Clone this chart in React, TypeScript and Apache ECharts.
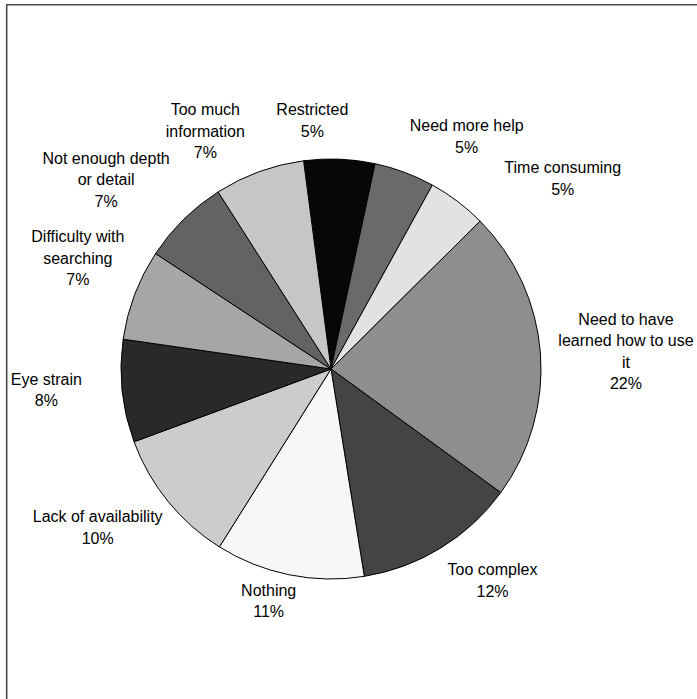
import { useEffect, useRef } from "react";
import * as echarts from "echarts";

// Survey answers, clockwise from the black "Restricted" slice.
const categories = [
  "Restricted",
  "Need more help",
  "Time consuming",
  "Need to have learned how to use it",
  "Too complex",
  "Nothing",
  "Lack of availability",
  "Eye strain",
  "Difficulty with searching",
  "Not enough depth or detail",
  "Too much information",
];

// Share of responses (percent).
const shares = [5.45, 4.65, 4.55, 22.45, 12.45, 11.45, 10.45, 7.9, 7.0, 6.7, 6.95];

const sliceColors = [
  "#070707",
  "#6a6a6a",
  "#e2e2e2",
  "#8e8e8e",
  "#444444",
  "#f7f7f7",
  "#cccccc",
  "#292929",
  "#a6a6a6",
  "#636363",
  "#c6c6c6",
];

// Per-label placement tweaks: angular shift (degrees, clockwise) and extra radial distance (px)
const labelAngleShift = [-7, 0, 8.7, 0, 0, 1.5, 0, 1.2, 0, -1.2, -2.7];
const labelRadialShift = [5, 2, 19, 5, 0, -7, -6, 27, -2, 2, 0];

const CX = 331;
const CY = 369;
const RADIUS = 210;
const START_CLOCKWISE_DEG = -7.5; // first slice edge, measured clockwise from 12 o'clock
const LABEL_GAP = 13;
const FONT_FAMILY = '"Liberation Sans", Arial, Helvetica, sans-serif';
const FONT_SIZE = 16;
const LINE_HEIGHT = 21.5;
const WRAP_WIDTH = 142;

function buildOption() {
  const total = shares.reduce((a, b) => a + b, 0);

  const canvas = document.createElement("canvas");
  const ctx = canvas.getContext("2d")!;
  ctx.font = `${FONT_SIZE}px ${FONT_FAMILY}`;

  const wrap = (text: string) => {
    const words = text.split(" ");
    const lines: string[] = [];
    let cur = "";
    for (const w of words) {
      const trial = cur ? cur + " " + w : w;
      if (cur && ctx.measureText(trial).width > WRAP_WIDTH) {
        lines.push(cur);
        cur = w;
      } else {
        cur = trial;
      }
    }
    if (cur) lines.push(cur);
    return lines;
  };

  const labelLines = categories.map((name, i) => [
    ...wrap(name),
    `${Math.round((shares[i] * 100) / total)}%`,
  ]);
  const labelWidth = labelLines.map((ls) => Math.max(...ls.map((l) => ctx.measureText(l).width)));
  const labelHeight = labelLines.map((ls) => ls.length * LINE_HEIGHT);

  let cum = 0;
  const midAngle = shares.map((v) => {
    const m = START_CLOCKWISE_DEG + (360 * (cum + v / 2)) / total;
    cum += v;
    return m;
  });

  // How far a label box is pushed off the radial anchor, per axis
  const side = (u: number) =>
    Math.sign(u) * Math.min(1, Math.max(0, (Math.abs(u) - 0.1) / 0.25));

  return {
    animation: false,
    backgroundColor: "#ffffff",
    textStyle: { fontFamily: FONT_FAMILY },
    graphic: [
      {
        type: "rect",
        silent: true,
        z: -10,
        shape: { x: 6.7, y: 4.8, width: 1400, height: 1400 },
        style: { fill: "none", stroke: "#4d4d4d", lineWidth: 1.6 },
      },
    ],
    series: [
      {
        type: "pie",
        center: [CX, CY],
        radius: [0, RADIUS],
        startAngle: 90 - START_CLOCKWISE_DEG,
        clockwise: true,
        avoidLabelOverlap: false,
        silent: true,
        data: categories.map((name, i) => ({
          name,
          value: shares[i],
          itemStyle: { color: sliceColors[i] },
        })),
        itemStyle: { borderColor: "#000000", borderWidth: 1 },
        label: {
          show: true,
          position: "outside",
          formatter: (p: any) => labelLines[p.dataIndex].join("\n"),
          color: "#000000",
          fontSize: FONT_SIZE,
          lineHeight: LINE_HEIGHT,
          fontFamily: FONT_FAMILY,
        },
        labelLine: { show: false },
        labelLayout: (p: any) => {
          const i = p.dataIndex;
          const theta = ((midAngle[i] + labelAngleShift[i]) * Math.PI) / 180;
          const ux = Math.sin(theta);
          const uy = -Math.cos(theta);
          const d = RADIUS + LABEL_GAP + labelRadialShift[i];
          return {
            x: CX + d * ux + (labelWidth[i] / 2) * side(ux),
            y: CY + d * uy + (labelHeight[i] / 2) * side(uy),
            align: "center",
            verticalAlign: "middle",
          };
        },
      },
    ],
  };
}

export default function App() {
  const ref = useRef<HTMLDivElement>(null);

  useEffect(() => {
    if (!ref.current) return;
    const chart = echarts.init(ref.current, undefined, { renderer: "svg" });
    chart.setOption(buildOption() as any);
    return () => chart.dispose();
  }, []);

  return (
    <div
      ref={ref}
      style={{ position: "fixed", left: 0, top: 0, width: 697, height: 699, background: "#ffffff" }}
    />
  );
}
